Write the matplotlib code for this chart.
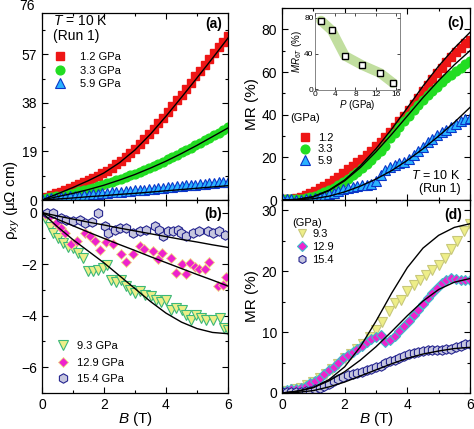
"""Hall resistivity and MR of the sample at 10 K under pressure (four panels)."""

import matplotlib

matplotlib.use("Agg")
import matplotlib.pyplot as plt  # noqa: E402
from matplotlib.ticker import MultipleLocator  # noqa: E402

plt.rcParams["font.family"] = ["Liberation Sans", "DejaVu Sans"]
plt.rcParams["mathtext.fontset"] = "custom"
plt.rcParams["mathtext.rm"] = "Liberation Sans"
plt.rcParams["mathtext.it"] = "Liberation Sans:italic"
plt.rcParams["mathtext.bf"] = "Liberation Sans:bold"

# ---- field grids (T) ----
B15 = [0.0, 0.15, 0.3, 0.45, 0.6, 0.75, 0.9, 1.05, 1.2, 1.35, 1.5, 1.65, 1.8, 1.95,
       2.1, 2.25, 2.4, 2.55, 2.7, 2.85, 3.0, 3.15, 3.3, 3.45, 3.6, 3.75, 3.9, 4.05,
       4.2, 4.35, 4.5, 4.65, 4.8, 4.95, 5.1, 5.25, 5.4, 5.55, 5.7, 5.85, 6.0]
B20 = [0.0, 0.2, 0.4, 0.6, 0.8, 1.0, 1.2, 1.4, 1.6, 1.8, 2.0, 2.2, 2.4, 2.6, 2.8,
       3.0, 3.2, 3.4, 3.6, 3.8, 4.0, 4.2, 4.4, 4.6, 4.8, 5.0, 5.2, 5.4, 5.6, 5.8, 6.0]
B_fit = [0.0, 0.5, 1.0, 1.5, 2.0, 2.5, 3.0, 3.5, 4.0, 4.5, 5.0, 5.5, 6.0]

# ---- (a) rho_xy, low pressures ----
rxy_12 = [0.5, 1.1, 1.8, 2.6, 3.2, 4.0, 4.7, 5.5, 6.2, 7.1, 7.8, 8.7, 9.4, 10.4,
          11.4, 12.6, 14.0, 15.4, 16.8, 18.4, 20.0, 21.8, 23.7, 25.8, 27.8, 30.0,
          32.2, 34.6, 36.8, 39.0, 41.2, 43.6, 45.8, 48.4, 50.6, 52.9, 55.2, 57.4,
          59.8, 62.0, 64.2]
rxy_33 = [0.3, 0.6, 1.0, 1.4, 1.7, 2.1, 2.5, 2.9, 3.4, 3.8, 4.3, 4.8, 5.4, 6.0,
          6.6, 7.2, 7.8, 8.4, 9.0, 9.7, 10.3, 11.0, 11.8, 12.5, 13.3, 14.1, 15.0,
          15.9, 16.8, 17.7, 18.6, 19.5, 20.5, 21.5, 22.4, 23.4, 24.4, 25.3, 26.4,
          27.4, 28.4]
rxy_59 = [0.2, 0.4, 0.6, 0.8, 1.0, 1.2, 1.4, 1.5, 1.7, 1.9, 2.1, 2.3, 2.4, 2.6,
          2.8, 3.0, 3.1, 3.3, 3.5, 3.6, 3.8, 4.0, 4.1, 4.3, 4.5, 4.6, 4.8, 5.0,
          5.1, 5.3, 5.5, 5.7, 5.8, 6.0, 6.2, 6.4, 6.5, 6.7, 6.9, 7.1, 7.2]
fit_rxy_12 = [0, 2.4, 4.9, 7.6, 10.6, 14.6, 19.6, 25.8, 32.8, 40.2, 47.8, 55.5, 63.4]
fit_rxy_33 = [0, 1.3, 2.6, 4.1, 5.8, 7.8, 10.0, 12.5, 15.2, 18.2, 21.4, 24.8, 28.2]
fit_rxy_59 = [0, 0.4, 0.8, 1.3, 1.7, 2.2, 2.6, 3.1, 3.6, 4.1, 4.6, 5.1, 5.6]

# ---- (b) rho_xy, high pressures ----
B_93 = [0.1, 0.26, 0.36, 0.53, 0.69, 0.85, 1.0, 1.17, 1.33, 1.49, 1.65, 1.81, 1.97,
        2.1, 2.24, 2.4, 2.56, 2.7, 2.85, 2.99, 3.15, 3.32, 3.53, 3.69, 3.85, 4.01,
        4.17, 4.33, 4.5, 4.66, 4.82, 4.98, 5.14, 5.3, 5.52, 5.73, 5.86, 6.0]
rxy_93 = [-0.22, -0.54, -0.8, -1.0, -1.19, -1.32, -1.38, -1.57, -1.77, -2.28, -2.25,
          -2.22, -2.15, -2.03, -2.6, -2.7, -2.6, -2.84, -3.0, -3.12, -3.06, -3.19,
          -3.25, -3.38, -3.45, -3.38, -3.77, -3.7, -3.77, -3.96, -4.15, -3.96, -4.09,
          -4.15, -4.15, -4.09, -4.48, -4.55]
B_129 = [0.1, 0.26, 0.45, 0.6, 0.74, 0.95, 1.14, 1.4, 1.55, 1.7, 1.87, 2.08, 2.3,
         2.56, 2.7, 2.94, 3.15, 3.3, 3.58, 3.74, 3.88, 4.17, 4.33, 4.5, 4.66, 4.77,
         4.92, 5.08, 5.25, 5.39, 5.67, 5.84, 5.94]
rxy_129 = [-0.05, -0.15, -0.4, -0.6, -0.8, -1.2, -1.1, -0.8, -0.9, -1.1, -1.45,
           -1.15, -1.2, -1.6, -1.9, -1.6, -1.3, -1.4, -1.5, -1.8, -1.55, -1.75,
           -2.35, -2.0, -2.4, -1.95, -2.1, -2.2, -2.2, -1.9, -2.85, -2.8, -2.5]
B_154 = [0.15, 0.34, 0.6, 0.79, 1.0, 1.22, 1.38, 1.6, 1.81, 2.03, 2.13, 2.35, 2.51,
         2.72, 2.94, 3.15, 3.37, 3.63, 3.79, 3.9, 4.06, 4.22, 4.38, 4.49, 4.65,
         4.86, 5.08, 5.35, 5.51, 5.72, 5.91]
rxy_154 = [0.0, 0.0, -0.2, -0.27, -0.33, -0.27, -0.4, -0.37, 0.0, -0.53, -0.79,
           -0.66, -0.6, -0.6, -0.79, -0.72, -0.66, -0.53, -0.66, -0.89, -0.72,
           -0.72, -0.66, -0.79, -0.92, -0.79, -0.72, -0.72, -0.79, -0.72, -0.85]
fit_rxy_93 = [0, -0.55, -1.05, -1.5, -1.95, -2.45, -2.95, -3.45, -3.9, -4.25, -4.5,
              -4.65, -4.7]
fit_rxy_129 = [0, -0.26, -0.51, -0.76, -1.0, -1.24, -1.47, -1.71, -1.94, -2.17,
               -2.4, -2.62, -2.85]
fit_rxy_154 = [0, -0.13, -0.25, -0.37, -0.48, -0.6, -0.71, -0.82, -0.93, -1.04,
               -1.14, -1.25, -1.35]

# ---- (c) MR, low pressures ----
mr_12 = [0.5, 0.5, 0.6, 0.9, 1.4, 2.2, 3.2, 4.3, 5.4, 6.6, 7.9, 9.3, 10.9, 12.6,
         14.4, 16.0, 17.6, 19.4, 21.3, 23.2, 25.2, 27.4, 29.6, 32.0, 34.4, 36.8,
         39.4, 42.2, 45.0, 48.0, 51.0, 53.8, 56.6, 59.4, 62.0, 64.6, 67.0, 69.2,
         71.4, 73.4, 75.0]
mr_33 = [0.3, 0.3, 0.3, 0.4, 0.6, 1.0, 1.5, 2.1, 2.8, 3.6, 4.6, 5.7, 7.0, 8.4,
         9.9, 11.5, 13.2, 15.0, 16.9, 18.9, 21.0, 23.2, 25.5, 29.0, 31.6, 34.2,
         36.8, 39.4, 42.0, 44.4, 46.8, 49.0, 51.2, 53.2, 55.2, 57.0, 58.8, 60.4,
         62.0, 63.6, 65.0]
mr_59 = [1.0, 0.6, 0.3, 0.1, 0.1, 0.3, 0.6, 1.0, 1.5, 2.0, 2.7, 3.4, 4.2, 5.0,
         5.6, 6.0, 6.4, 6.8, 7.2, 7.6, 9.0, 11.5, 14.0, 15.4, 16.4, 17.2, 18.0,
         19.2, 21.0, 23.0, 25.0, 27.0, 28.8, 30.4, 31.8, 33.0, 34.4, 35.6, 36.8,
         37.8, 38.6]
fit_mr_12 = [0, 0.3, 1.6, 4.6, 9.4, 16.0, 24.0, 33.2, 43.2, 53.4, 62.8, 71.2, 78.6]
fit_mr_33 = [0, 0.3, 1.5, 4.4, 9.0, 15.2, 22.6, 30.8, 39.4, 48.0, 56.0, 63.4, 70.0]
fit_mr_59 = [0, 0.1, 0.6, 1.8, 3.8, 6.5, 9.8, 13.8, 18.6, 24.0, 30.0, 36.4, 43.4]

# ---- (d) MR, high pressures ----
mr_93 = [0.3, 0.4, 0.6, 0.9, 1.3, 1.8, 2.4, 3.1, 3.9, 4.8, 5.7, 6.4, 7.2, 8.0,
         9.2, 10.4, 11.6, 13.4, 14.8, 15.2, 16.8, 17.8, 18.6, 19.4, 20.2, 21.0,
         22.2, 23.6, 25.0, 26.6, 27.8]
mr_129 = [0.4, 0.5, 0.6, 0.7, 0.9, 1.2, 1.6, 2.0, 2.5, 3.1, 3.7, 4.3, 5.0, 5.7,
          6.3, 6.8, 7.3, 7.8, 8.3, 8.8, 9.2, 9.6, 8.3, 8.7, 9.4, 10.2, 11.0, 11.9,
          12.8, 13.7, 14.7, 15.6, 16.5, 17.3, 18.0, 18.6, 18.9, 18.8, 18.6, 18.5,
          18.6]
mr_154 = [0.2, 0.2, 0.2, 0.2, 0.2, 0.3, 0.4, 0.6, 0.8, 1.1, 1.5, 1.9, 2.3, 2.6,
          2.9, 3.1, 3.3, 3.5, 3.7, 3.9, 4.2, 4.5, 4.9, 5.2, 5.5, 5.8, 6.1, 6.4,
          6.6, 6.8, 6.9, 7.0, 7.0, 7.1, 7.1, 7.2, 7.3, 7.6, 7.8, 8.0, 8.1]
fit_mr_93 = [0, 0.3, 0.9, 2.2, 4.3, 7.6, 11.8, 16.4, 20.6, 23.8, 25.9, 27.2, 27.8]
fit_mr_129 = [0, 0.3, 0.9, 2.0, 3.5, 5.4, 7.6, 10.1, 12.7, 15.1, 17.0, 18.2, 18.8]
fit_mr_154 = [0, 0.1, 0.4, 1.0, 1.8, 2.8, 3.8, 4.8, 5.7, 6.4, 6.9, 7.3, 7.5]

# ---- inset: MR at 6 T vs pressure ----
pressure = [1.2, 3.3, 5.9, 9.3, 12.9, 15.4]
mr_6t = [77, 66, 37.5, 27, 18, 7]

RED = "#ee1515"
GREEN = "#22dd22"
BLUE_F, BLUE_E = "#2ab2ff", "#0a35c8"
YEL_F = "#eeee88"
MAG_F = "#ee22cc"
HEX_F, HEX_E = "#c6c6de", "#25258f"

W, H = 474, 429
fig = plt.figure(figsize=(W / 100, H / 100), dpi=100)


def px_axes(x0, y0, x1, y1):
    """Axes from pixel box (left, top, right, bottom)."""
    return fig.add_axes([x0 / W, 1 - y1 / H, (x1 - x0) / W, (y1 - y0) / H])


ax_a = px_axes(42, 13, 228, 200)
ax_b = px_axes(42, 200, 228, 393)
ax_c = px_axes(282, 8, 470, 200)
ax_d = px_axes(282, 200, 470, 393)

for ax in (ax_a, ax_b, ax_c, ax_d):
    ax.set_xlim(0, 6)
    ax.xaxis.set_major_locator(MultipleLocator(2))
    ax.xaxis.set_minor_locator(MultipleLocator(1))
    ax.tick_params(which="both", direction="in", top=True, right=True,
                   labelsize=10, width=0.8)
    ax.tick_params(which="major", length=4)
    ax.tick_params(which="minor", length=2)
    for s in ax.spines.values():
        s.set_linewidth(0.9)

ms = 6.3
leg_kw = dict(frameon=False, fontsize=8, handlelength=1.2, borderpad=0,
              borderaxespad=0)

# (a)
ax_a.plot(B15, rxy_12, "s", ms=ms, color=RED, mec=RED, label="1.2 GPa")
ax_a.plot(B15, rxy_33, "o", ms=ms, color=GREEN, mec=GREEN, label="3.3 GPa")
ax_a.plot(B15, rxy_59, "^", ms=ms + 0.5, mfc=BLUE_F, mec=BLUE_E, mew=0.8,
          label="5.9 GPa")
for f in (fit_rxy_12, fit_rxy_33, fit_rxy_59):
    ax_a.plot(B_fit, f, "-", color="black", lw=1.0)
ax_a.set_ylim(0, 73.2)
ax_a.set_yticks([0, 19, 38, 57])
ax_a.yaxis.set_minor_locator(MultipleLocator(9.5))
ax_a.set_xticklabels([])
ax_a.text(-0.04, 76, "76", transform=ax_a.get_yaxis_transform(), ha="right",
          va="center", fontsize=10, clip_on=False)
ax_a.legend(loc="upper left", bbox_to_anchor=(0.061, 0.79), labelspacing=0.3,
            handletextpad=1.2, **leg_kw)
ax_a.text(0.06, 0.955, "$T$ = 10 K", transform=ax_a.transAxes, fontsize=10,
          va="center")
ax_a.text(0.06, 0.875, "(Run 1)", transform=ax_a.transAxes, fontsize=10,
          va="center")
ax_a.text(0.97, 0.94, "(a)", transform=ax_a.transAxes, fontsize=10,
          fontweight="bold", ha="right", va="center")

# (b)
ax_b.plot(B_93, rxy_93, "v", ms=ms + 0.5, mfc=YEL_F, mec="#3cb878", mew=0.8,
          label="9.3 GPa")
ax_b.plot(B_129, rxy_129, "D", ms=ms - 0.7, mfc=MAG_F, mec="#f0e080", mew=0.6,
          label="12.9 GPa")
ax_b.plot(B_154, rxy_154, "h", ms=ms + 0.5, mfc=HEX_F, mec=HEX_E, mew=0.8,
          label="15.4 GPa")
for f in (fit_rxy_93, fit_rxy_129, fit_rxy_154):
    ax_b.plot(B_fit, f, "-", color="black", lw=1.0)
ax_b.set_ylim(-7, 0.49)
ax_b.set_yticks([0, -2, -4, -6])
ax_b.yaxis.set_minor_locator(MultipleLocator(1))
ax_b.set_xlabel("$B$ (T)", fontsize=11, labelpad=-1)
ax_b.legend(loc="lower left", bbox_to_anchor=(0.077, 0.045), labelspacing=0.6,
            handletextpad=0.7, **leg_kw)
ax_b.text(0.97, 0.93, "(b)", transform=ax_b.transAxes, fontsize=10,
          fontweight="bold", ha="right", va="center")

fig.text(12 / W, 1 - 200 / H, r"ρ$_{xy}$ (μΩ cm)", rotation=90, fontsize=11,
         ha="center", va="center")

# (c)
ax_c.plot(B15, mr_12, "s", ms=ms, color=RED, mec=RED, label="1.2")
ax_c.plot(B15, mr_33, "o", ms=ms, color=GREEN, mec=GREEN, label="3.3")
ax_c.plot(B15, mr_59, "^", ms=ms + 0.5, mfc=BLUE_F, mec=BLUE_E, mew=0.8,
          label="5.9")
for f in (fit_mr_12, fit_mr_33, fit_mr_59):
    ax_c.plot(B_fit, f, "-", color="black", lw=1.0)
ax_c.set_ylim(0, 90)
ax_c.yaxis.set_major_locator(MultipleLocator(20))
ax_c.yaxis.set_minor_locator(MultipleLocator(10))
ax_c.set_xticklabels([])
ax_c.set_ylabel("MR (%)", fontsize=11, labelpad=2)
ax_c.legend(loc="upper left", bbox_to_anchor=(0.085, 0.35), labelspacing=0.15,
            handletextpad=0.6, **leg_kw)
ax_c.text(0.043, 0.427, "(GPa)", transform=ax_c.transAxes, fontsize=8,
          va="center")
ax_c.text(0.95, 0.13, "$T$ = 10 K", transform=ax_c.transAxes, fontsize=9,
          ha="right", va="center")
ax_c.text(0.95, 0.055, "(Run 1)", transform=ax_c.transAxes, fontsize=9,
          ha="right", va="center")
ax_c.text(0.97, 0.92, "(c)", transform=ax_c.transAxes, fontsize=10,
          fontweight="bold", ha="right", va="center")

# (d)
ax_d.plot(B20, mr_93, "v", ms=ms + 0.5, mfc=YEL_F, mec="#c8c87a", mew=0.8,
          label="9.3")
ax_d.plot(B15, mr_129, "D", ms=ms - 0.7, mfc=MAG_F, mec="#3cc0cc", mew=0.8,
          label="12.9")
ax_d.plot(B15, mr_154, "h", ms=ms + 0.5, mfc=HEX_F, mec=HEX_E, mew=0.8,
          label="15.4")
for f in (fit_mr_93, fit_mr_129, fit_mr_154):
    ax_d.plot(B_fit, f, "-", color="black", lw=1.0)
ax_d.set_ylim(0, 31.7)
ax_d.yaxis.set_major_locator(MultipleLocator(10))
ax_d.yaxis.set_minor_locator(MultipleLocator(5))
ax_d.set_xlabel("$B$ (T)", fontsize=11, labelpad=-1)
ax_d.set_ylabel("MR (%)", fontsize=11, labelpad=2)
ax_d.legend(loc="upper left", bbox_to_anchor=(0.071, 0.85), labelspacing=0.25,
            handletextpad=0.3, markerscale=0.85, **leg_kw)
ax_d.text(0.053, 0.88, "(GPa)", transform=ax_d.transAxes, fontsize=8,
          va="center")
ax_d.text(0.96, 0.92, "(d)", transform=ax_d.transAxes, fontsize=10,
          fontweight="bold", ha="right", va="center")

# inset in (c)
ax_in = px_axes(315, 13, 400, 90)
ax_in.plot(pressure, mr_6t, "-", color="#b6d98e", lw=7, alpha=0.85,
           solid_capstyle="round", solid_joinstyle="round")
ax_in.plot(pressure, mr_6t, "s", ms=4, mfc="white", mec="black", mew=1.0)
ax_in.set_xlim(0, 16.8)
ax_in.set_ylim(-1, 85.6)
ax_in.set_xticks([0, 4, 8, 12, 16])
ax_in.set_yticks([0, 40, 80])
ax_in.tick_params(direction="in", top=True, right=True, labelsize=6, length=2,
                  width=0.5, pad=1)
for s in ax_in.spines.values():
    s.set_linewidth(0.5)
    s.set_color("#555555")
ax_in.set_xlabel("$P$ (GPa)", fontsize=7, labelpad=0)
ax_in.set_ylabel("$MR_{6T}$ (%)", fontsize=7, labelpad=0)

fig.savefig("out.png", dpi=100)
plt.close(fig)
